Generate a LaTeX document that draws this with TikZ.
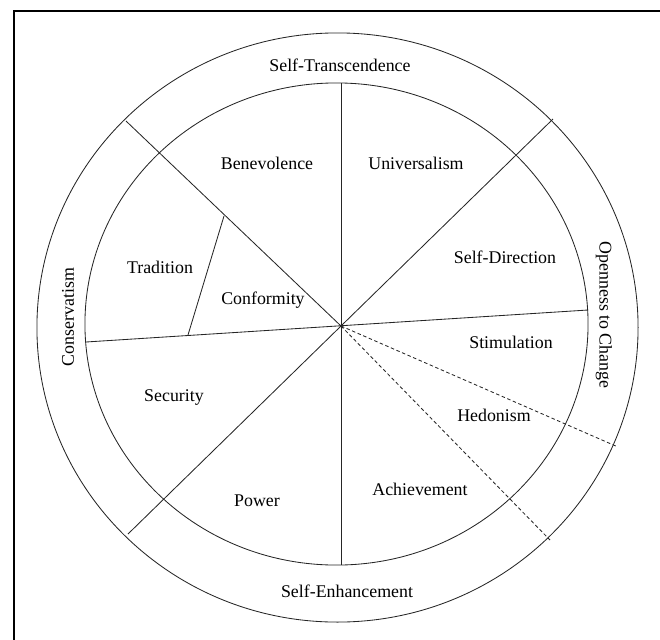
\documentclass[tikz,border=0pt]{standalone}
\usepackage{fontspec}
\setmainfont{Liberation Serif}
\begin{document}
\begin{tikzpicture}[x=0.025cm,y=-0.025cm,line width=0.6pt,draw=black!85,
	value/.style={font=\fontsize{12.7}{15}\selectfont},
	group/.style={font=\fontsize{12.7}{15}\selectfont}]
		\useasboundingbox (0,0) rectangle (660,640);
		\draw[line width=1.1pt,black] (14,640) -- (14,11) -- (660,11);
		
		\draw (337.5,327.5) ellipse [x radius=7.5125cm, y radius=7.3625cm];
		\draw (336.5,324) ellipse [x radius=6.2875cm, y radius=6.025cm];
		
		\coordinate (c) at (341,326);
		\coordinate (top) at (341,83);
		\coordinate (bottom) at (341,565);
		\coordinate (left) at (86,342);
		\coordinate (right) at (588,310);
		\coordinate (ul) at (126,121);
		\coordinate (ur) at (553,119);
		\coordinate (ll) at (128,534);
		\coordinate (trad1) at (224,216);
		\coordinate (trad2) at (188,335);
		\coordinate (hed) at (618,447);
		\coordinate (ach) at (550,540);
		
		\draw (top) -- (bottom);
		\draw (left) -- (right);
		\draw (ul) -- (c);
		\draw (ur) -- (c);
		\draw (ll) -- (c);
		\draw (trad1) -- (trad2);
		\draw[dashed,dash pattern=on 2.5pt off 1.8pt] (c) -- (hed);
		\draw[dashed,dash pattern=on 2.5pt off 1.8pt] (c) -- (ach);
		
		\node[group] (st) at (340,65) {Self-Transcendence};
		\node[group] (se) at (347,591) {Self-Enhancement};
		\node[group,rotate=90] (cons) at (68,317) {Conservatism};
		\node[group,rotate=-90] (open) at (604,315) {Openness to Change};
		
		\node[value] (ben) at (267,163) {Benevolence};
		\node[value] (uni) at (416,163) {Universalism};
		\node[value] (tra) at (160,267) {Tradition};
		\node[value] (con) at (263,300) {Conformity};
		\node[value] (sd) at (505,257) {Self-Direction};
		\node[value] (sti) at (511,342) {Stimulation};
		\node[value] (sec) at (174,398) {Security};
		\node[value] (hedo) at (494,415) {Hedonism};
		\node[value] (pow) at (257,501) {Power};
		\node[value] (achi) at (420,489) {Achievement};
	\end{tikzpicture}
\end{document}
